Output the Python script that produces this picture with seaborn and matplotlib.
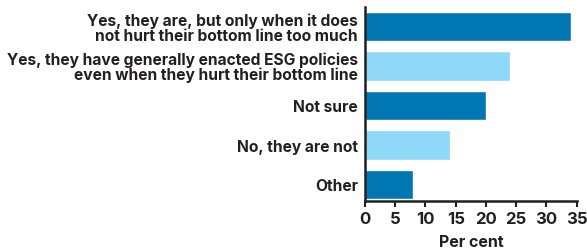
import matplotlib
matplotlib.use("Agg")
import matplotlib.pyplot as plt
import seaborn as sns
import pandas as pd

antworten = [
    "Yes, they are, but only when it does\nnot hurt their bottom line too much",
    "Yes, they have generally enacted ESG policies\neven when they hurt their bottom line",
    "Not sure",
    "No, they are not",
    "Other",
]
prozent = [34, 24, 20, 14, 8]
farben = ["#0077b3", "#8fd8f8", "#0077b3", "#8fd8f8", "#0077b3"]

df = pd.DataFrame({"Antwort": antworten, "Prozent": prozent})

sns.set_theme(style="white")
plt.rcParams["font.family"] = ["Inter", "DejaVu Sans"]
textfarbe = "#231f20"

fig = plt.figure(figsize=(5.87, 2.53), dpi=100)
ax = fig.add_axes([0.6218, 0.2016, 0.3607, 0.7664])

sns.barplot(data=df, x="Prozent", y="Antwort", hue="Antwort", palette=farben,
            legend=False, width=0.74, saturation=1, ax=ax)

ax.set_xlim(0, 35)
ax.set_ylim(4.42, -0.49)
ax.set_xticks(range(0, 36, 5))
ax.set_xlabel("Per cent", fontsize=11.5, fontweight="bold", color=textfarbe, labelpad=6)
ax.set_ylabel("")

for s in ["top", "right"]:
    ax.spines[s].set_visible(False)
for s in ["left", "bottom"]:
    ax.spines[s].set_color(textfarbe)
    ax.spines[s].set_linewidth(1.8)

ax.tick_params(axis="x", length=4, width=1.5, color=textfarbe, labelsize=12,
               labelcolor=textfarbe, pad=3, bottom=True)
ax.tick_params(axis="y", length=0, pad=5, labelsize=11.2, labelcolor=textfarbe)
for t in ax.get_xticklabels():
    t.set_fontweight("bold")
for t in ax.get_yticklabels():
    t.set_fontweight("bold")
    t.set_linespacing(0.95)

fig.savefig("out.png", dpi=100)
